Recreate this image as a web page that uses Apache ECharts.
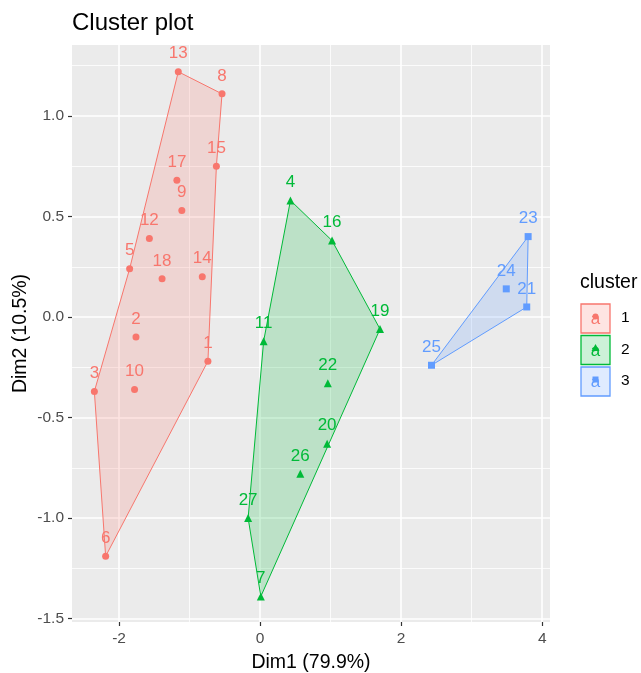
<!DOCTYPE html>
<html>
<head>
<meta charset="utf-8">
<script src="https://cdn.jsdelivr.net/npm/echarts@6/dist/echarts.min.js"></script>
<style>
  html, body { margin: 0; padding: 0; background: #fff; }
  #main { width: 641px; height: 673px; }
</style>
</head>
<body>
<div id="main"></div>
<script>
// observation ids and their coordinates on the first two dimensions
const pointIds = ['1','2','3','4','5','6','7','8','9','10','11','12','13','14','15','16','17','18','19','20','21','22','23','24','25','26','27']
const dim1 = [-0.74, -1.76, -2.35, 0.43, -1.85, -2.19, 0.01, -0.54, -1.11, -1.78, 0.05, -1.57, -1.16, -0.82, -0.62, 1.02, -1.18, -1.39, 1.70, 0.95, 3.78, 0.96, 3.80, 3.49, 2.43, 0.57, -0.17]
const dim2 = [-0.22, -0.10, -0.37, 0.58, 0.24, -1.19, -1.39, 1.11, 0.53, -0.36, -0.12, 0.39, 1.22, 0.20, 0.75, 0.38, 0.68, 0.19, -0.06, -0.63, 0.05, -0.33, 0.40, 0.14, -0.24, -0.78, -1.00]
const clusterOf = [1, 1, 1, 2, 1, 1, 2, 1, 1, 1, 2, 1, 1, 1, 1, 2, 1, 1, 2, 2, 3, 2, 3, 3, 3, 2, 2]

// convex hull of each cluster, as ids in drawing order
const hull1 = ['13', '8', '15', '1', '6', '3', '5']
const hull2 = ['4', '16', '19', '7', '27', '11']
const hull3 = ['23', '21', '25']

const clusterNames = ['1', '2', '3']
const xTicks = [-2, 0, 2, 4]
const xMinor = [-1, 1, 3]
const yTicks = [-1.5, -1, -0.5, 0, 0.5, 1]
const yMinor = [-1.25, -0.75, -0.25, 0.25, 0.75, 1.25]

const X_MIN = -2.667
const X_MAX = 4.11
const Y_MIN = -1.517
const Y_MAX = 1.353

const colors = ['#F8766D', '#00BA38', '#619CFF']
const fills = ['rgba(248,118,109,0.2)', 'rgba(0,186,56,0.2)', 'rgba(97,156,255,0.2)']
const symbols = ['circle', 'triangle', 'rect']
const symbolSizes = [7, 8, 7]
const FONT = '"Liberation Sans", Arial, sans-serif'

const chart = echarts.init(document.getElementById('main'))

function pointsOf(cluster) {
  const out = []
  pointIds.forEach((id, i) => {
    if (clusterOf[i] === cluster) out.push([dim1[i], dim2[i], id])
  })
  return out
}

function hullPoints(ids) {
  return ids.map(id => {
    const i = pointIds.indexOf(id)
    return [dim1[i], dim2[i]]
  })
}

const hulls = [hull1, hull2, hull3]

const hullSeries = hulls.map((ids, k) => ({
  type: 'custom',
  name: clusterNames[k],
  data: hullPoints(ids),
  silent: true,
  z: 1,
  renderItem: (params, api) => {
    if (params.dataIndex !== 0) return
    const pts = hullPoints(ids).map(p => api.coord(p))
    return {
      type: 'polygon',
      shape: { points: pts },
      style: { fill: fills[k], stroke: colors[k], lineWidth: 1 }
    }
  }
}))

const pointSeries = clusterNames.map((name, k) => ({
  type: 'scatter',
  name: name,
  data: pointsOf(k + 1),
  symbol: symbols[k],
  symbolSize: symbolSizes[k],
  z: 3,
  itemStyle: { color: colors[k], opacity: 1 },
  label: {
    show: true,
    position: 'inside',
    offset: [0, -18],
    formatter: p => p.data[2],
    color: colors[k],
    fontSize: 17,
    fontFamily: FONT
  },
  emphasis: { disabled: true }
}))

// legend drawn as ggplot style keys
const legendGraphics = [{
  type: 'text',
  left: 580,
  top: 273,
  style: { text: 'cluster', font: '19.5px ' + FONT, fill: '#000' }
}]
clusterNames.forEach((name, k) => {
  const top = 304 + k * 31.5
  const cx = 595.5, cy = top + 14.5
  legendGraphics.push({
    type: 'rect',
    shape: { x: 581, y: top, width: 29, height: 29 },
    style: { fill: fills[k], stroke: colors[k], lineWidth: 1.3 }
  })
  legendGraphics.push({
    type: 'text',
    x: cx, y: cy + 1,
    style: { text: 'a', font: '17px ' + FONT, fill: colors[k], align: 'center', verticalAlign: 'middle' }
  })
  let shape
  if (k === 0) shape = { type: 'circle', shape: { cx: cx, cy: cy - 2, r: 3 }, style: { fill: colors[k] } }
  else if (k === 1) shape = { type: 'polygon', shape: { points: [[cx, cy - 6], [cx - 4, cy + 1], [cx + 4, cy + 1]] }, style: { fill: colors[k] } }
  else shape = { type: 'rect', shape: { x: cx - 3, y: cy - 5, width: 6, height: 6 }, style: { fill: colors[k] } }
  legendGraphics.push(shape)
  legendGraphics.push({
    type: 'text',
    left: 621,
    top: top + 6,
    style: { text: name, font: '15.5px ' + FONT, fill: '#000' }
  })
})

const option = {
  animation: false,
  textStyle: { fontFamily: FONT },
  title: {
    text: 'Cluster plot',
    left: 67,
    top: 6,
    textStyle: { fontSize: 24, fontWeight: 'normal', color: '#000', fontFamily: FONT }
  },
  grid: {
    left: 72,
    top: 45,
    width: 478,
    height: 577,
    show: true,
    backgroundColor: '#EBEBEB',
    borderWidth: 0,
    containLabel: false,
    outerBoundsMode: 'none'
  },
  xAxis: [
    {
      type: 'value',
      min: X_MIN,
      max: X_MAX,
      position: 'bottom',
      name: 'Dim1 (79.9%)',
      nameLocation: 'middle',
      nameGap: 31,
      nameTextStyle: { fontSize: 19.5, color: '#000', fontFamily: FONT },
      axisLine: { show: false, onZero: false },
      axisTick: { show: true, length: 4, customValues: xTicks, lineStyle: { color: '#333', width: 1.2 } },
      axisLabel: { customValues: xTicks, color: '#4D4D4D', fontSize: 15.5, margin: 9, fontFamily: FONT },
      splitLine: { show: true, lineStyle: { color: '#fff', width: 1.6 } }
    },
    {
      type: 'value',
      min: X_MIN,
      max: X_MAX,
      position: 'top',
      axisLine: { show: false, onZero: false },
      axisTick: { show: false, customValues: xMinor },
      axisLabel: { show: false, customValues: xMinor },
      splitLine: { show: true, lineStyle: { color: '#fff', width: 0.8 } }
    }
  ],
  yAxis: [
    {
      type: 'value',
      min: Y_MIN,
      max: Y_MAX,
      position: 'left',
      name: 'Dim2 (10.5%)',
      nameLocation: 'middle',
      nameGap: 41,
      nameMoveOverlap: false,
      nameTextStyle: { fontSize: 19.5, color: '#000', fontFamily: FONT },
      axisLine: { show: false, onZero: false },
      axisTick: { show: true, length: 4, customValues: yTicks, lineStyle: { color: '#333', width: 1.2 } },
      axisLabel: { customValues: yTicks, color: '#4D4D4D', fontSize: 15.5, margin: 8, fontFamily: FONT, formatter: v => v.toFixed(1) },
      splitLine: { show: true, lineStyle: { color: '#fff', width: 1.6 } }
    },
    {
      type: 'value',
      min: Y_MIN,
      max: Y_MAX,
      position: 'right',
      axisLine: { show: false, onZero: false },
      axisTick: { show: false, customValues: yMinor },
      axisLabel: { show: false, customValues: yMinor },
      splitLine: { show: true, lineStyle: { color: '#fff', width: 0.8 } }
    }
  ],
  series: [...hullSeries, ...pointSeries],
  graphic: legendGraphics
}

chart.setOption(option)
</script>
</body>
</html>
